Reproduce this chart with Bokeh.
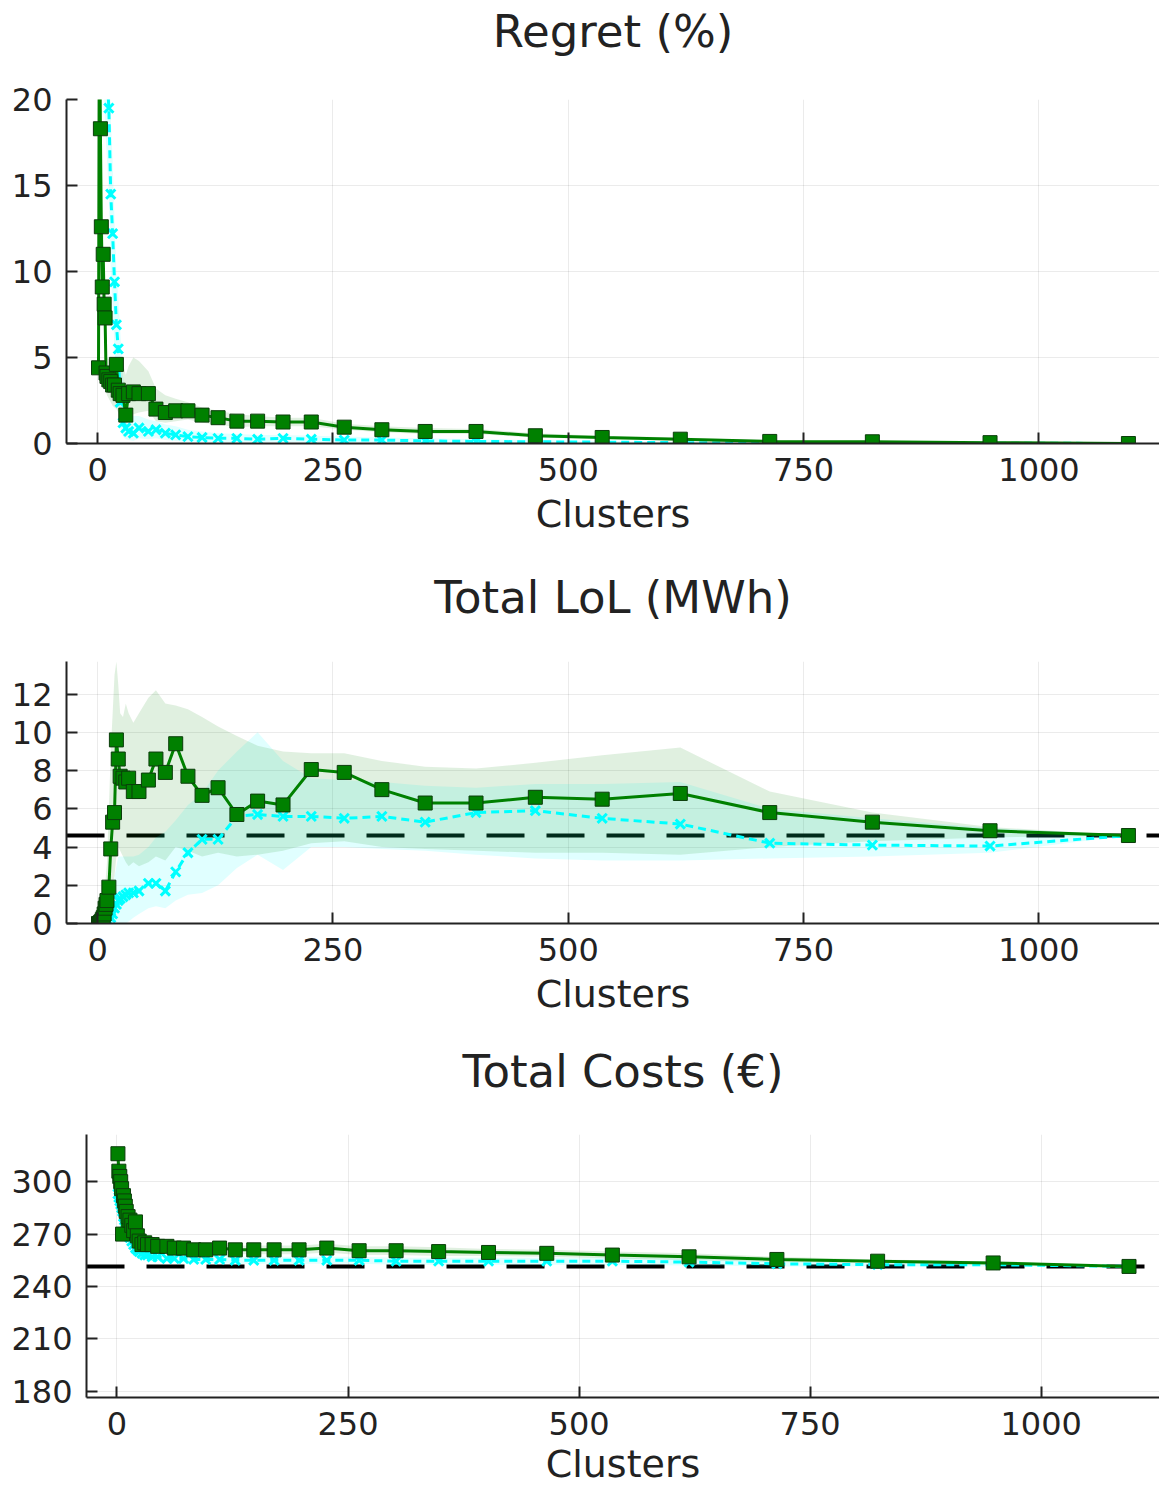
from bokeh.plotting import figure
from bokeh.layouts import column
from bokeh.models import Range1d, FixedTicker, Span, Title
from bokeh.embed import file_html
from bokeh.resources import INLINE

# Number of clusters evaluated
clusters = [1, 2, 3, 4, 5, 6, 7, 8, 9, 10, 12, 14, 16, 18, 20, 22, 24, 27, 30, 33,
            38, 44, 54, 62, 72, 83, 96, 111, 128, 148, 170, 197, 227, 262, 302, 348,
            402, 465, 536, 619, 714, 823, 948, 1095]

# Regret (%)
regret_green = [4.4, 27.0, 18.3, 12.6, 9.1, 11.0, 8.1, 7.3, 4.1, 3.9, 3.7, 3.6, 3.4, 3.4,
                4.6, 3.1, 2.9, 2.8, 1.65, 2.9, 3.0, 2.9, 2.9, 2.0, 1.8, 1.9, 1.9, 1.65,
                1.5, 1.3, 1.3, 1.25, 1.25, 0.95, 0.8, 0.7, 0.7, 0.45, 0.35, 0.25, 0.12,
                0.1, 0.05, 0.0]
regret_green_lo = [3.8, 22.0, 15.5, 10.5, 7.5, 9.0, 6.5, 5.8, 3.0, 2.8, 2.6, 2.4, 2.2, 2.1,
                   2.0, 1.8, 1.6, 1.5, 1.0, 1.5, 1.7, 1.8, 1.9, 1.3, 1.2, 1.3, 1.4, 1.2,
                   1.1, 0.95, 1.0, 1.0, 1.0, 0.8, 0.65, 0.55, 0.55, 0.35, 0.25, 0.18, 0.08,
                   0.06, 0.03, 0.0]
regret_green_hi = [5.0, 32.0, 21.0, 14.5, 10.8, 13.0, 9.8, 8.8, 5.2, 5.0, 4.9, 4.8, 4.7, 4.7,
                   4.8, 4.7, 4.6, 4.6, 4.0, 4.5, 5.0, 4.8, 4.2, 3.2, 2.8, 2.6, 2.4, 2.1,
                   1.9, 1.7, 1.6, 1.5, 1.5, 1.15, 1.0, 0.9, 0.85, 0.6, 0.45, 0.35, 0.18,
                   0.15, 0.08, 0.0]
regret_cyan = [45.0, 38.0, 33.0, 30.0, 28.0, 26.0, 25.0, 23.5, 22.5, 21.5, 19.5, 14.5,
               12.2, 9.4, 6.9, 5.5, 2.4, 1.2, 0.9, 0.7, 0.6, 0.9, 0.7, 0.8, 0.6, 0.5, 0.4,
               0.35, 0.3, 0.3, 0.25, 0.3, 0.25, 0.2, 0.2, 0.15, 0.12, 0.1, 0.08, 0.05,
               0.04, 0.03, 0.02, 0.0]
regret_cyan_lo = [38.0, 32.0, 28.0, 25.0, 23.0, 21.0, 20.0, 18.5, 17.5, 16.5, 14.5, 10.0,
                  8.0, 5.5, 3.5, 2.5, 1.0, 0.4, 0.25, 0.2, 0.15, 0.3, 0.25, 0.3, 0.2, 0.15,
                  0.1, 0.1, 0.08, 0.08, 0.06, 0.08, 0.06, 0.05, 0.05, 0.04, 0.03, 0.02,
                  0.02, 0.01, 0.01, 0.0, 0.0, 0.0]
regret_cyan_hi = [52.0, 44.0, 38.0, 35.0, 33.0, 31.0, 30.0, 28.5, 27.5, 26.5, 24.5, 19.0,
                  16.5, 13.0, 10.0, 8.5, 6.6, 4.0, 2.5, 2.0, 1.6, 1.6, 1.4, 1.3, 1.1, 1.0,
                  0.8, 0.7, 0.6, 0.55, 0.5, 0.5, 0.45, 0.4, 0.35, 0.3, 0.25, 0.2, 0.15,
                  0.1, 0.08, 0.06, 0.04, 0.0]

# Total loss of load (MWh)
lol_green = [0.0, 0.0, 0.05, 0.1, 0.2, 0.3, 0.5, 0.8, 1.0, 1.2, 1.9, 3.9, 5.3, 5.8, 9.6,
             8.6, 7.7, 7.6, 7.4, 7.6, 6.9, 6.9, 7.5, 8.6, 7.9, 9.4, 7.7, 6.7, 7.1, 5.7,
             6.4, 6.2, 8.05, 7.9, 7.0, 6.3, 6.3, 6.6, 6.5, 6.8, 5.8, 5.3, 4.85, 4.6]
lol_green_lo = [0.0, 0.0, 0.0, 0.0, 0.0, 0.0, 0.0, 0.1, 0.2, 0.3, 0.5, 1.5, 2.0, 2.5, 3.5,
                4.0, 3.8, 3.5, 3.2, 3.0, 3.2, 3.0, 3.2, 3.5, 3.3, 4.0, 3.8, 3.5, 3.7, 3.5,
                3.6, 3.8, 4.2, 4.3, 4.0, 3.9, 3.8, 3.7, 3.7, 3.6, 4.0, 4.3, 4.5, 4.6]
lol_green_hi = [0.2, 0.3, 0.4, 0.6, 0.8, 1.0, 1.4, 2.0, 2.6, 3.2, 6.0, 9.0, 11.0, 13.0,
                13.7, 12.5, 11.0, 10.8, 11.5, 11.0, 10.5, 11.0, 11.8, 12.2, 11.5, 11.4,
                11.2, 10.8, 10.3, 9.8, 9.3, 9.0, 8.9, 8.9, 8.5, 8.2, 8.1, 8.4, 8.8, 9.2,
                6.9, 5.8, 5.05, 4.6]
lol_cyan = [0.0, 0.0, 0.0, 0.0, 0.0, 0.0, 0.0, 0.0, 0.0, 0.0, 0.1, 0.3, 0.5, 0.8, 1.0,
            1.2, 1.3, 1.4, 1.5, 1.6, 1.6, 1.7, 2.1, 2.1, 1.7, 2.7, 3.7, 4.4, 4.4, 5.6,
            5.7, 5.6, 5.6, 5.5, 5.6, 5.3, 5.8, 5.9, 5.5, 5.2, 4.2, 4.1, 4.05, 4.6]
lol_cyan_lo = [0.0, 0.0, 0.0, 0.0, 0.0, 0.0, 0.0, 0.0, 0.0, 0.0, 0.0, 0.0, 0.0, 0.0, 0.0,
               0.0, 0.0, 0.0, 0.0, 0.1, 0.3, 0.5, 0.8, 0.9, 0.8, 1.2, 1.5, 1.6, 2.0, 2.9,
               3.6, 2.8, 4.0, 4.0, 3.9, 3.8, 3.6, 3.4, 3.3, 3.3, 3.4, 3.5, 3.7, 4.6]
lol_cyan_hi = [0.0, 0.0, 0.0, 0.0, 0.0, 0.0, 0.0, 0.0, 0.0, 0.2, 0.5, 1.0, 1.5, 2.5, 3.0,
               3.5, 3.5, 3.5, 3.5, 3.5, 3.5, 3.6, 4.0, 4.5, 4.8, 5.4, 6.2, 6.8, 8.0, 9.0,
               10.0, 8.5, 7.6, 7.5, 7.4, 7.2, 7.1, 7.3, 7.3, 7.4, 6.0, 5.5, 5.0, 4.6]
lol_full = 4.6

# Total costs (EUR)
cost_green = [316, 306, 303, 300, 296, 270, 292, 289, 286, 283, 280, 278, 275, 272, 277,
              269, 266, 264, 265, 264, 264, 263, 263, 262, 262, 261, 261, 262, 261, 261,
              261, 261, 262, 260.5, 260.5, 260, 259.5, 259, 258, 257, 255.5, 254.5,
              253.5, 251.5]
cost_green_lo = [310, 300, 297, 294, 290, 265, 286, 283, 280, 277, 275, 273, 270, 268, 272,
                 265, 262, 260.5, 261.5, 260.5, 260.5, 260, 260, 259, 259, 258.5, 258.5,
                 259.5, 258.5, 258.5, 258.5, 258.5, 259.5, 258, 258, 257.5, 257.5, 257,
                 256, 255, 254, 253.5, 252.5, 251.5]
cost_green_hi = [322, 312, 309, 306, 302, 275, 298, 295, 292, 289, 285, 283, 280, 276, 282,
                 273, 270, 267.5, 268.5, 267.5, 267.5, 266, 266, 265, 265, 263.5, 263.5,
                 264.5, 263.5, 263.5, 263.5, 263.5, 264.5, 263, 263, 262.5, 261.5, 261,
                 260, 259, 257, 255.5, 254.5, 251.5]
cost_cyan = [293, 291, 289, 287, 285, 283, 280, 278, 276, 274, 271, 268, 266, 264, 262,
             261, 260, 259, 258, 258, 257, 257, 256, 256, 256, 255.5, 255.5, 255.5, 255,
             255, 255, 255, 255, 255, 254.5, 254.5, 254.5, 254.5, 254.5, 254, 253, 252.5,
             252.5, 251.5]
cost_cyan_lo = [287, 285, 283, 281, 279, 277, 275, 273, 271, 269, 266, 264, 262, 260, 259,
                258, 257, 256.5, 255.5, 255.5, 255, 255, 254, 254, 254, 253.5, 253.5,
                253.5, 253, 253, 253, 253, 253, 253, 252.5, 252.5, 252.5, 252.5, 252.5,
                252, 251.5, 251.5, 251.5, 251.5]
cost_cyan_hi = [299, 297, 295, 293, 291, 289, 285, 283, 281, 279, 276, 272, 270, 268, 265,
                264, 263, 261.5, 260.5, 260.5, 259, 259, 258, 258, 258, 257.5, 257.5,
                257.5, 257, 257, 257, 257, 257, 257, 256.5, 256.5, 256.5, 256.5, 256.5,
                256, 254.5, 253.5, 253.5, 251.5]
cost_full = 251.5

x_ticks = [0, 250, 500, 750, 1000]

GREEN = "#008000"
CYAN = "#00ffff"
FONT = "DejaVu Sans"
INK = "#222222"


def make_panel(title, height, gap_px, border_bottom, border_left, y_lim, y_ticks):
    p = figure(width=1159, height=height, output_backend="svg", toolbar_location=None,
               x_range=Range1d(-33, 1128), y_range=Range1d(*y_lim),
               min_border_left=border_left, min_border_right=0,
               min_border_top=0, min_border_bottom=border_bottom)
    # heading on top, blank title underneath keeps a gap above the frame
    p.title = Title(text=title, align="center", text_font=FONT, text_font_size="45px",
                    text_font_style="normal", text_color=INK, standoff=5)
    p.add_layout(Title(text=" ", text_font_size=f"{gap_px}px", standoff=0), "above")
    p.outline_line_color = None
    p.background_fill_color = "white"
    p.border_fill_color = "white"

    p.xaxis.ticker = FixedTicker(ticks=x_ticks)
    p.yaxis.ticker = FixedTicker(ticks=y_ticks)
    p.xaxis.axis_label = "Clusters"
    for ax in (p.xaxis, p.yaxis):
        ax.axis_label_text_font = FONT
        ax.axis_label_text_font_size = "38px"
        ax.axis_label_text_font_style = "normal"
        ax.axis_label_text_color = INK
        ax.major_label_text_font = FONT
        ax.major_label_text_font_size = "32px"
        ax.major_label_text_color = INK
        ax.axis_line_color = INK
        ax.axis_line_width = 2
        ax.major_tick_line_color = INK
        ax.major_tick_line_width = 2
        ax.major_tick_in = 11
        ax.major_tick_out = 0
        ax.minor_tick_line_color = None
    p.xaxis.major_label_standoff = 14
    p.xaxis.axis_label_standoff = 8
    p.yaxis.major_label_standoff = 14

    p.grid.grid_line_color = "black"
    p.grid.grid_line_alpha = 0.08
    p.grid.grid_line_width = 1
    return p


def draw_series(p, cyan, cyan_lo, cyan_hi, green, green_lo, green_hi):
    p.varea(x=clusters, y1=cyan_lo, y2=cyan_hi, fill_color=CYAN, fill_alpha=0.12)
    p.varea(x=clusters, y1=green_lo, y2=green_hi, fill_color=GREEN, fill_alpha=0.12)
    p.line(clusters, cyan, line_color=CYAN, line_width=3, line_dash="8 5")
    p.scatter(clusters, cyan, marker="x", size=13, line_color=CYAN, line_width=3)
    p.line(clusters, green, line_color=GREEN, line_width=3)
    p.scatter(clusters, green, marker="square", size=14, fill_color=GREEN,
              line_color="#0b3d0b", line_width=1)


p1 = make_panel("Regret (%)", 566, 33, 123, 66, (0, 20), [0, 5, 10, 15, 20])
draw_series(p1, regret_cyan, regret_cyan_lo, regret_cyan_hi,
            regret_green, regret_green_lo, regret_green_hi)

p2 = make_panel("Total LoL (MWh)", 474, 30, 117, 66, (0, 13.7), [0, 2, 4, 6, 8, 10, 12])
p2.add_layout(Span(location=lol_full, dimension="width", line_color="black",
                   line_width=4, line_dash="38 22", level="underlay"))
draw_series(p2, lol_cyan, lol_cyan_lo, lol_cyan_hi, lol_green, lol_green_lo, lol_green_hi)

p3 = make_panel("Total Costs (€)", 448, 29, 90, 86, (176.5, 327), [180, 210, 240, 270, 300])
p3.xaxis.axis_label_standoff = 4
p3.add_layout(Span(location=cost_full, dimension="width", line_color="black",
                   line_width=4, line_dash="38 22", level="underlay"))
draw_series(p3, cost_cyan, cost_cyan_lo, cost_cyan_hi, cost_green, cost_green_lo, cost_green_hi)

# each panel sits in its own column so the frames keep their own left borders
layout = column(column(p1), column(p2), column(p3), spacing=0)
open("out.html", "w").write(file_html(layout, INLINE))
